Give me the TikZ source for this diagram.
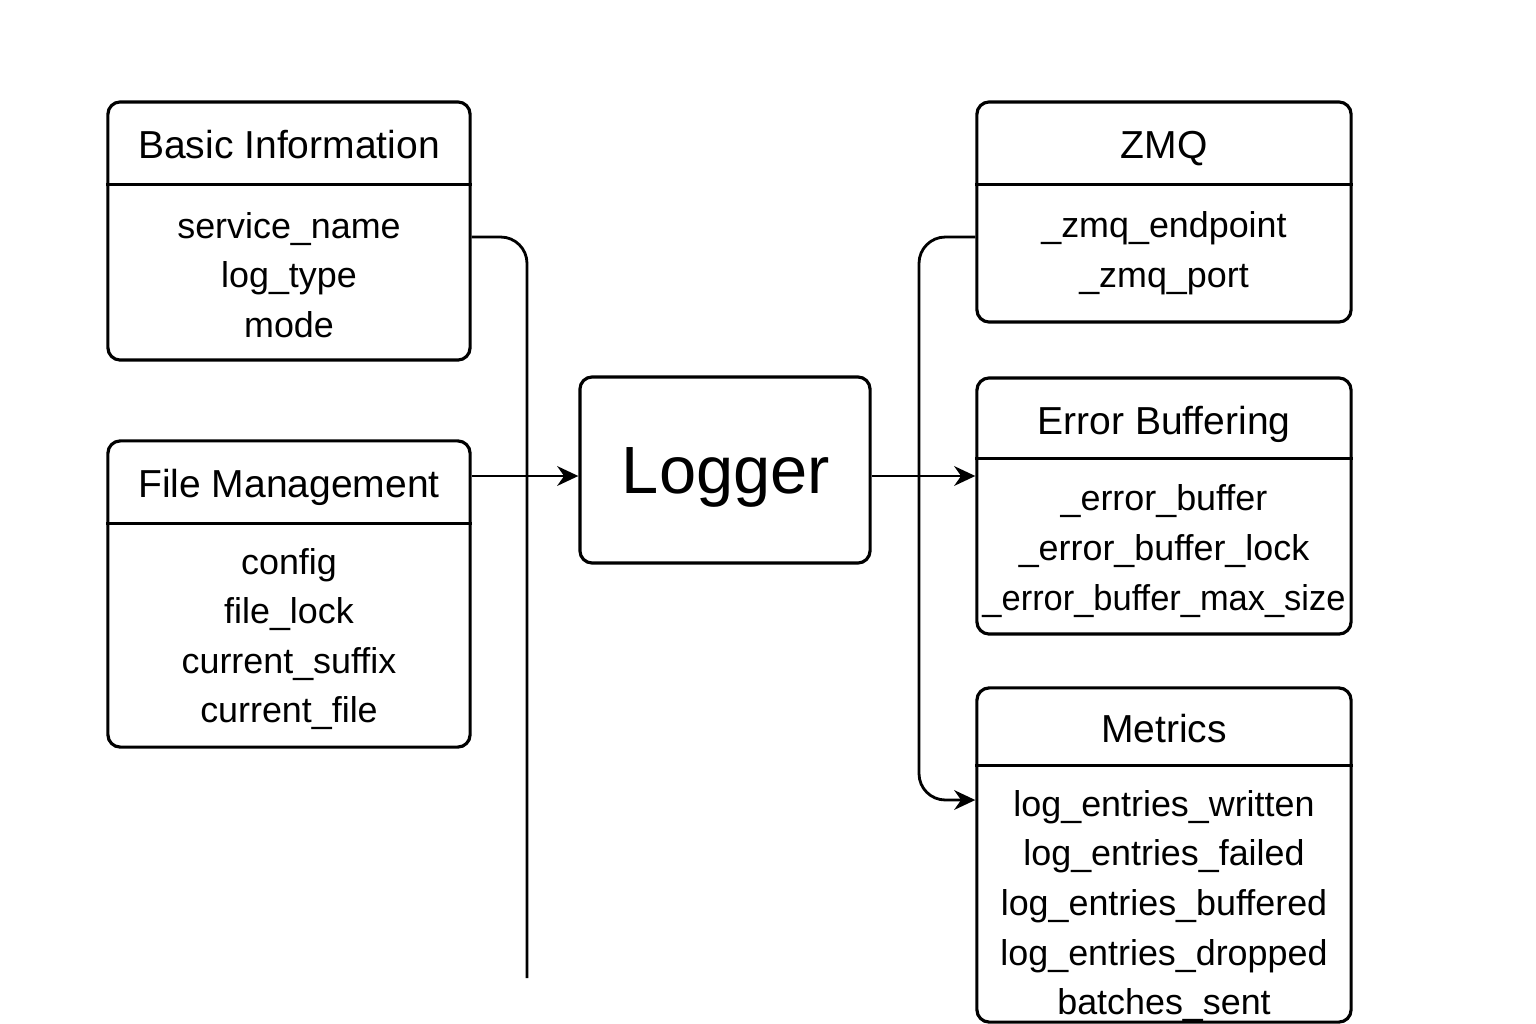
\documentclass[tikz,border=0pt]{standalone}
\usepackage{fontspec}
\setmainfont{Liberation Sans}
\usetikzlibrary{calc,positioning,arrows.meta}

\tikzset{
  frame/.style={draw, line width=0.9pt, rounded corners=3.5pt, inner sep=0pt},
  wire/.style={line width=0.8pt, rounded corners=7.5pt},
  head/.style={anchor=base, font=\fontsize{11.1}{13}\selectfont},
  fields/.style={align=center, font=\fontsize{10.2}{14.1}\selectfont},
}

\begin{document}
\begin{tikzpicture}[x=0.01cm, y=-0.01cm, >={Stealth[length=6pt,width=5.6pt]}]
                \useasboundingbox (0,0) rectangle (1536,1024);
                % boxes
                \node[frame, minimum width=3.62cm, minimum height=2.58cm] (basic) at (289,231) {};
                \node[frame, minimum width=3.62cm, minimum height=3.06cm] (file) at (289,594) {};
                \node[frame, minimum width=2.90cm, minimum height=1.86cm] (logger) at (725,470) {};
                \node[frame, minimum width=3.74cm, minimum height=2.20cm] (zmq) at (1164,212) {};
                \node[frame, minimum width=3.74cm, minimum height=2.56cm] (errbuf) at (1164,506) {};
                \node[frame, minimum width=3.74cm, minimum height=3.34cm] (metrics) at (1164,855) {};
                \foreach \b/\h in {basic/84, file/84, zmq/84, errbuf/82, metrics/79}
                    \draw[line width=0.9pt] ($(\b.north west)+(0,\h)$) -- ($(\b.north east)+(0,\h)$);
                % titles and fields
                \node[anchor=base, font=\fontsize{19}{22}\selectfont] (logger-t) at (726,493) {Logger};
                \node[head] (basic-t) at (289,158) {Basic Information};
                \node[fields] (basic-f) at (289,275) {service\_name\\log\_type\\mode};
                \node[head] (file-t) at (289,497) {File Management};
                \node[fields] (file-f) at (289,639) {config\\file\_lock\\current\_suffix\\current\_file};
                \node[head] (zmq-t) at (1164,158) {ZMQ};
                \node[fields] (zmq-f) at (1164,253) {\_zmq\_endpoint\\\_zmq\_port};
                \node[head] (errbuf-t) at (1164,434) {Error Buffering};
                \node[fields] (errbuf-f) at (1164,551) {\_error\_buffer\\\_error\_buffer\_lock\\\scalebox{0.96}[1]{\_error\_buffer\_max\_size}};
                \node[head] (metrics-t) at (1164,742) {Metrics};
                \node[fields] (metrics-f) at (1164,906) {log\_entries\_written\\log\_entries\_failed\\log\_entries\_buffered\\log\_entries\_dropped\\batches\_sent};
                % connectors
                \coordinate (top) at (0,237);
                \coordinate (mid) at (0,476);
                \coordinate (low) at (0,800);
                \coordinate (busend) at (527,978);
                \coordinate (zbus) at (919,0);
                \draw[wire] (basic.east |- top) -- (busend |- top) -- (busend);
                \draw[wire,->] (file.east |- mid) -- (logger.west |- mid);
                \draw[wire,->] (logger.east |- mid) -- (errbuf.west |- mid);
                \draw[wire,->] (zmq.west |- top) -- (zbus |- top) -- (zbus |- low) -- (metrics.west |- low);
            \end{tikzpicture}
\end{document}
